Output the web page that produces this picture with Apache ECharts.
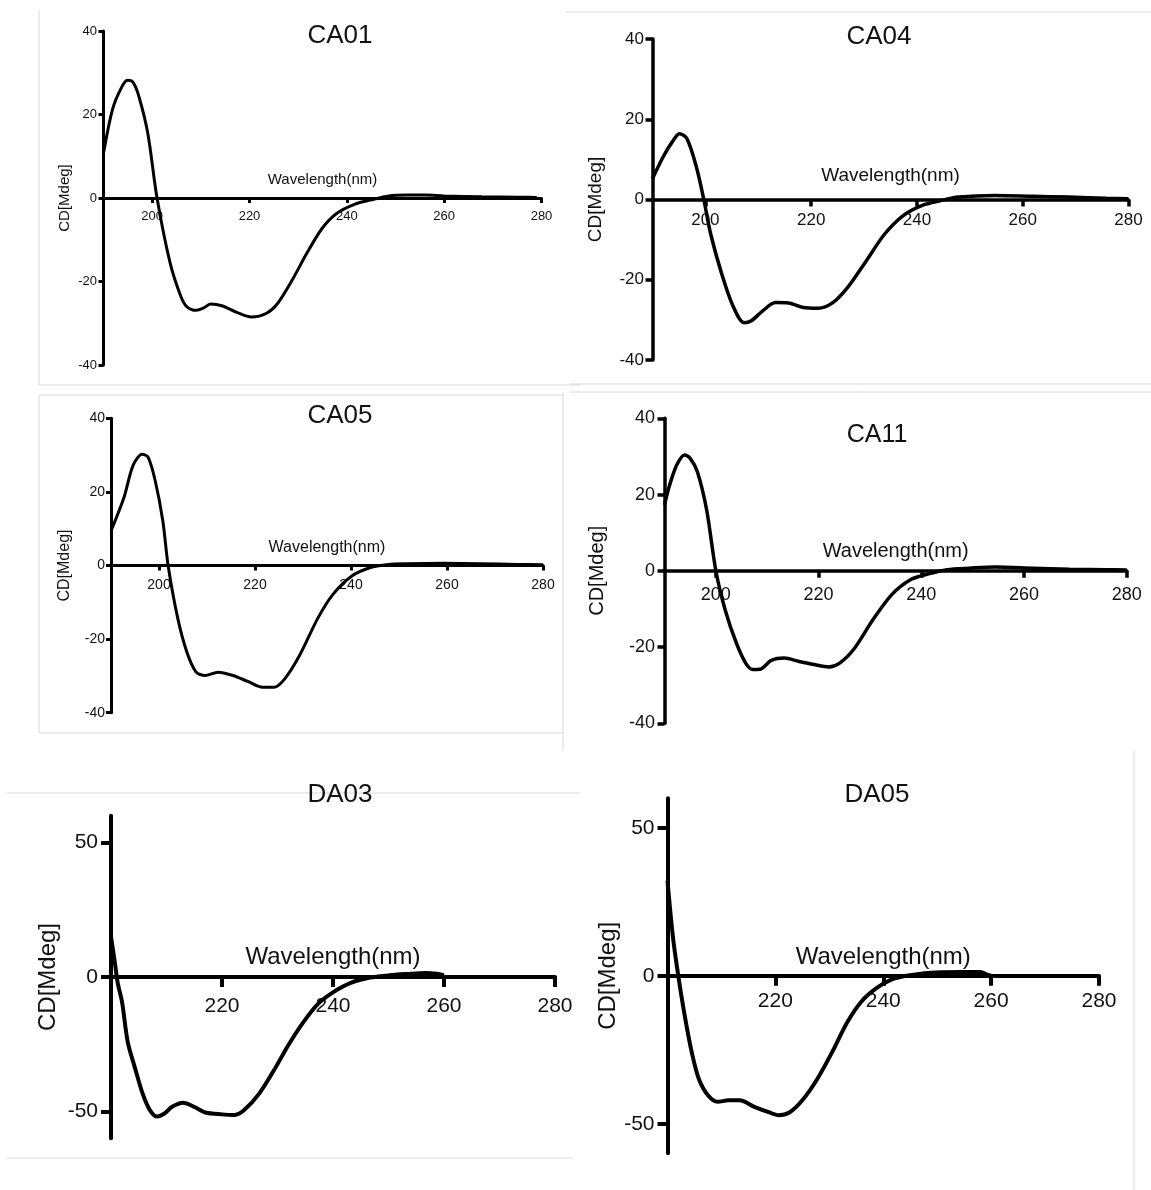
<!DOCTYPE html>
<html>
<head>
<meta charset="utf-8">
<script src="https://cdn.jsdelivr.net/npm/echarts@6/dist/echarts.min.js"></script>
<style>
  html, body { margin: 0; padding: 0; background: #fff; }
  #chart { width: 1151px; height: 1190px; }
</style>
</head>
<body>
<div id="chart"></div>
<script>
// CD spectra, one pair of arrays per sample (wavelength nm / CD mdeg)
const ca01Wl = [190, 191.8, 193.5, 194.9, 196, 197.2, 199.1, 201, 203.7, 205.9, 207.1, 209, 210.5, 212, 214.3, 217.4, 220.4, 223.5, 225.8, 228.8, 231.8, 234.9, 237.9, 241.8, 244.8, 248.6, 252.4, 256.2, 260, 267.7, 275.3, 279];
const ca01Cd = [10.7, 21, 26, 28.2, 27.8, 24.6, 15.5, 0, -15.6, -23.6, -26, -26.9, -26.4, -25.4, -25.8, -27.4, -28.5, -27.6, -25.2, -19.6, -13.2, -7.3, -3.7, -1.4, -0.5, 0.5, 0.7, 0.7, 0.5, 0.3, 0.2, 0.1];

const ca04Wl = [190, 192, 193.7, 195.1, 196.5, 198.3, 199.7, 201, 203.1, 205.2, 207.3, 208.7, 210.8, 213.3, 215.7, 218.5, 221.3, 224.1, 226.9, 230.4, 233.9, 237.4, 240.9, 244.4, 247.9, 254.8, 261.8, 268.8, 275.8, 280];
const ca04Cd = [5.2, 10.6, 14.3, 16.4, 15.2, 8.1, 0, -8.6, -18.6, -26.5, -30.7, -30.2, -27.8, -25.7, -25.8, -26.9, -27.1, -25.7, -21.9, -15.3, -8.6, -4, -1.5, -0.3, 0.6, 1, 0.8, 0.6, 0.3, 0.2];

const ca05Wl = [190, 192.7, 194.6, 196.5, 197.7, 199.2, 200.8, 201.9, 203.9, 205.8, 207.7, 209.6, 212.3, 215.4, 218.5, 221.6, 223.9, 226.2, 229.3, 233.1, 236.2, 240.1, 243.9, 247.8, 251.6, 259.3, 267, 274.8, 280];
const ca05Cd = [9.4, 18.5, 27.2, 30.2, 29.5, 23.1, 12.1, 0, -14.3, -23.5, -28.9, -29.9, -29, -29.9, -31.5, -33.1, -33.1, -30.8, -24.4, -14.3, -7.9, -2.9, -0.6, 0.3, 0.5, 0.6, 0.5, 0.3, 0.2];

const ca11Wl = [190, 191, 192.4, 193.9, 195, 196.4, 198.2, 200, 201.8, 204, 205.8, 207.2, 208.6, 210.8, 213.3, 216.2, 219.1, 222, 224.1, 227, 230.6, 234.2, 237.8, 241.4, 245, 249.4, 254.4, 261.6, 268.8, 276, 280];
const ca11Cd = [17.3, 22.5, 27.8, 30.4, 29.5, 26, 16, 0, -10.2, -19, -24.2, -25.9, -25.8, -23.5, -22.9, -23.8, -24.6, -25.2, -24.2, -20.3, -12.8, -6.3, -2.4, -0.8, 0.3, 0.7, 1, 0.7, 0.4, 0.3, 0.2];

const da03Wl = [200, 200.7, 201.2, 202, 203, 204.3, 205.7, 207, 208.3, 209.7, 211, 213, 215, 217, 220, 222.3, 224, 226.7, 229.3, 232, 234.7, 237.3, 240, 243.3, 246.7, 250, 253.3, 256.7, 258.7, 260];
const da03Cd = [15, 5.2, -2.1, -9.4, -24, -33.7, -43.4, -49.5, -51.9, -50.7, -48.3, -46.8, -48.3, -50.4, -51.1, -51.3, -49.5, -43.4, -34.9, -25.2, -16.7, -10, -5.7, -2.1, -0.2, 0.6, 1.1, 1.5, 1.2, 0.6];

const da05Wl = [200, 201, 202, 203.1, 204.5, 205.8, 207.5, 209.3, 211.3, 213.4, 216.1, 218.9, 220.6, 222.6, 225, 227.8, 230.5, 233.3, 236, 238.8, 241.5, 244.3, 247.7, 251.1, 254.6, 258, 259.4, 260];
const da05Cd = [32.1, 13.2, 0, -12.5, -25.9, -34.8, -40.4, -42.6, -42.1, -42.1, -44.3, -46.2, -47.1, -46.2, -42.1, -34.8, -25.9, -15.8, -8.6, -4.1, -1.3, 0, 0.9, 1.2, 1.3, 1.3, 0.3, 0];

const caXTicks = [200, 220, 240, 260, 280];
const caYTicks = [-40, -20, 0, 20, 40];
const daXTicks = [220, 240, 260, 280];
const daYTicks = [-50, 0, 50];

const FONT = 'Liberation Sans, Arial, Helvetica, sans-serif';

// layout of the six panels (pixels)
const panels = [
  { name: 'CA01', wl: ca01Wl, cd: ca01Cd, left: 103.5, top: 31, width: 438, height: 334, xMin: 190, yMin: -40, yMax: 40, xTicks: caXTicks, yTicks: caYTicks,
    titleX: 340, titleY: 36, titleSize: 26, tickSize: 13, nameSize: 15, lw: 3, tick: 5, xMargin: 11.5, yMargin: 6.5, xNameGap: -25.5, yNameGap: 31 },
  { name: 'CA04', wl: ca04Wl, cd: ca04Cd, left: 652.5, top: 39, width: 476, height: 321, xMin: 190, yMin: -40, yMax: 40, xTicks: caXTicks, yTicks: caYTicks,
    titleX: 879, titleY: 37, titleSize: 26, tickSize: 17, nameSize: 19, lw: 3.5, tick: 7, xMargin: 12, yMargin: 8.5, xNameGap: -33.5, yNameGap: 47 },
  { name: 'CA05', wl: ca05Wl, cd: ca05Cd, left: 111, top: 418.3, width: 432, height: 294.4, xMin: 190, yMin: -40, yMax: 40, xTicks: caXTicks, yTicks: caYTicks,
    titleX: 340, titleY: 416, titleSize: 26, tickSize: 14, nameSize: 16, lw: 3, tick: 5, xMargin: 12.5, yMargin: 6, xNameGap: -25.6, yNameGap: 38 },
  { name: 'CA11', wl: ca11Wl, cd: ca11Cd, left: 664.5, top: 418.3, width: 462.3, height: 305, xMin: 190, yMin: -40, yMax: 40, xTicks: caXTicks, yTicks: caYTicks,
    titleX: 877, titleY: 435, titleSize: 25, tickSize: 18, nameSize: 20, lw: 3.5, tick: 7, xMargin: 15.5, yMargin: 9.5, xNameGap: -29, yNameGap: 57 },
  { name: 'DA03', wl: da03Wl, cd: da03Cd, left: 111, top: 815.7, width: 444, height: 322.6, xMin: 200, yMin: -60, yMax: 60, xTicks: daXTicks, yTicks: daYTicks,
    titleX: 340, titleY: 795, titleSize: 26, tickSize: 21, nameSize: 24, lw: 4, tick: 10, xMargin: 19, yMargin: 13, xNameGap: -31.7, yNameGap: 51 },
  { name: 'DA05', wl: da05Wl, cd: da05Cd, left: 667.5, top: 798.3, width: 431.5, height: 355, xMin: 200, yMin: -60, yMax: 60, xTicks: daXTicks, yTicks: daYTicks,
    titleX: 877, titleY: 795, titleSize: 26, tickSize: 21, nameSize: 24, lw: 4, tick: 10, xMargin: 15, yMargin: 13, xNameGap: -30, yNameGap: 41 }
];

// faint frame lines around the pasted panels
const frameLines = [
  [39, 10, 39, 385], [39, 385, 580, 385],
  [565, 12, 1151, 12], [570, 384, 1151, 384],
  [39, 395, 563, 395], [39, 395, 39, 733], [39, 733, 563, 733], [563, 392, 563, 750],
  [570, 392, 1151, 392],
  [7, 793, 580, 793], [7, 1158, 573, 1158],
  [1134, 750, 1134, 1190]
];

const n = panels.length;
const chart = echarts.init(document.getElementById('chart'));

// main grids hold the curves; label grids end at y = 0 so the
// wavelength labels and axis name sit on the zero line
const grids = panels.map((p) => ({ left: p.left, top: p.top, width: p.width, height: p.height }))
  .concat(panels.map((p) => ({
    left: p.left, top: p.top, width: p.width,
    height: p.height * p.yMax / (p.yMax - p.yMin)
  })));

const xAxes = panels.map((p, i) => ({
  gridIndex: i,
  type: 'value',
  min: p.xMin,
  max: 280,
  axisLine: { show: true, onZero: true, lineStyle: { color: '#000', width: p.lw } },
  axisTick: { show: true, length: p.tick, customValues: p.xTicks, lineStyle: { color: '#000', width: p.lw } },
  axisLabel: { show: false },
  splitLine: { show: false }
})).concat(panels.map((p, i) => ({
  gridIndex: n + i,
  type: 'value',
  min: p.xMin,
  max: 280,
  name: 'Wavelength(nm)',
  nameLocation: 'middle',
  nameGap: p.xNameGap,
  nameTextStyle: { fontFamily: FONT, fontSize: p.nameSize, color: '#111' },
  axisLine: { show: false },
  axisTick: { show: false },
  axisLabel: { customValues: p.xTicks, fontFamily: FONT, fontSize: p.tickSize, color: '#111', margin: p.xMargin },
  splitLine: { show: false }
})));

const yAxes = panels.map((p, i) => ({
  gridIndex: i,
  type: 'value',
  min: p.yMin,
  max: p.yMax,
  name: 'CD[Mdeg]',
  nameLocation: 'middle',
  nameGap: p.yNameGap,
  nameTextStyle: { fontFamily: FONT, fontSize: p.nameSize, color: '#111' },
  axisLine: { show: true, lineStyle: { color: '#000', width: p.lw } },
  axisTick: { show: true, length: p.tick, customValues: p.yTicks, lineStyle: { color: '#000', width: p.lw } },
  axisLabel: { customValues: p.yTicks, fontFamily: FONT, fontSize: p.tickSize, color: '#111', margin: p.yMargin },
  splitLine: { show: false }
})).concat(panels.map((p, i) => ({
  gridIndex: n + i,
  type: 'value',
  min: 0,
  max: p.yMax,
  show: false
})));

const option = {
  animation: false,
  backgroundColor: '#fff',
  title: panels.map((p) => ({
    text: p.name,
    left: p.titleX,
    top: p.titleY,
    padding: 0,
    textAlign: 'center',
    textVerticalAlign: 'middle',
    textStyle: { fontFamily: FONT, fontSize: p.titleSize, fontWeight: 'normal', color: '#111' }
  })),
  graphic: frameLines.map((l) => ({
    type: 'line',
    z: -1,
    shape: { x1: l[0], y1: l[1], x2: l[2], y2: l[3] },
    style: { stroke: '#d9d9d9', lineWidth: 1 }
  })),
  grid: grids,
  xAxis: xAxes,
  yAxis: yAxes,
  series: panels.map((p, i) => ({
    name: p.name,
    type: 'line',
    xAxisIndex: i,
    yAxisIndex: i,
    symbol: 'none',
    smooth: 0.3,
    lineStyle: { color: '#000', width: p.lw },
    data: p.wl.map((x, k) => [x, p.cd[k]])
  }))
};

chart.setOption(option);
</script>
</body>
</html>
